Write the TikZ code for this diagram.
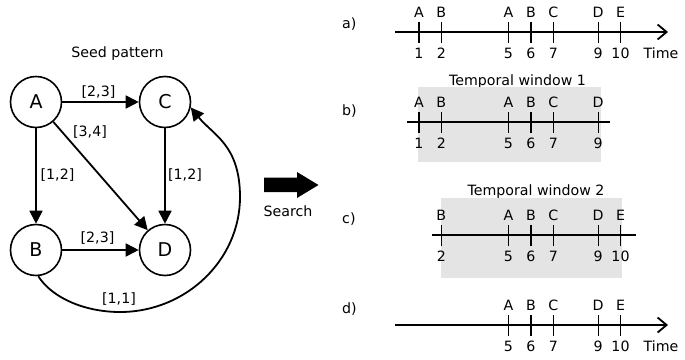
\documentclass[tikz,border=0pt]{standalone}
\usepackage{fontspec}
\setmainfont{DejaVu Sans}
\usetikzlibrary{arrows.meta}
\definecolor{winGray}{RGB}{228,228,228}

% tick marks with an event label above and a time stamp below
\newcommand\timemarks[3]{%
  \foreach \t/\l in {#3} {
    \draw[tickmark] ({396.5+22.4*\t},#2-10) -- ({396.5+22.4*\t},#2+11);
    \node[txt,anchor=base] (#1-l\t) at ({396.5+22.4*\t},#2-15) {\l};
    \node[txt,anchor=base] (#1-n\t) at ({396.5+22.4*\t},#2+26) {\t};
  }}

\begin{document}
\begin{tikzpicture}[x=1pt,y=-1pt,
  state/.style={circle,draw,line width=1.6pt,minimum size=51pt,inner sep=0pt,
                font=\fontsize{19}{21}\selectfont},
  edge/.style={line width=1.8pt,-{Triangle[length=13pt,width=13pt]}},
  txt/.style={font=\fontsize{14.2}{16}\selectfont,inner sep=0pt},
  axisline/.style={line width=1.8pt},
  timearrow/.style={axisline,-{Straight Barb[length=9pt,width=15pt,line width=1.8pt]}},
  tickmark/.style={line width=1.2pt},
  window/.style={fill=winGray,draw=none}
]
\useasboundingbox (0,0) rectangle (685,359);

% ---------- seed pattern graph ----------
\node[txt,anchor=base] (title) at (117.5,57) {Seed pattern};
\node[state] (A) at (36,102) {A};
\node[state] (C) at (165,102) {C};
\node[state] (B) at (36,250) {B};
\node[state] (D) at (165,250) {D};

\draw[edge] (A) -- (C);
\draw[edge] (A) -- (B);
\draw[edge] (A) -- (D);
\draw[edge] (C) -- (D);
\draw[edge] (B) -- (D);

\coordinate (loopLow) at (120,312);
\coordinate (loopRight) at (240,197);
\draw[edge] (B.-85) .. controls (52,298) and (85,312) .. (loopLow)
  .. controls (186,312) and (240,260) .. (loopRight)
  .. controls (240,145) and (213,135) .. (C.-12);

\node[txt] (lAC) at (98.5,92) {[2,3]};
\node[txt] (lAD) at (90,132) {[3,4]};
\node[txt] (lAB) at (57.5,175) {[1,2]};
\node[txt] (lCD) at (185,175) {[1,2]};
\node[txt] (lBD) at (97.5,238) {[2,3]};
\node[txt] (lBC) at (119,299) {[1,1]};

% ---------- search arrow ----------
\fill (264,177.5) -- (297,177.5) -- (297,172) -- (318.5,185) -- (297,198)
  -- (297,192) -- (264,192) -- cycle;
\node[txt,anchor=base] (search) at (288,216.5) {Search};

% ---------- row a ----------
\node[txt,anchor=base west] (rowa) at (342,28) {a)};
\coordinate (a-start) at (395,32);
\coordinate (a-end) at (668,32);
\draw[timearrow] (a-start) -- (a-end);
\timemarks{a}{32}{1/A,2/B,5/A,6/B,7/C,9/D,10/E}
\node[txt,anchor=base] (a-time) at (661,58) {Time};

% ---------- row b ----------
\node[txt,anchor=base] (win1) at (517.5,85) {Temporal window 1};
\fill[window] (418,87) rectangle (601,162);
\node[txt,anchor=base west] (rowb) at (342,115) {b)};
\coordinate (b-start) at (407,122);
\coordinate (b-end) at (610,122);
\draw[axisline] (b-start) -- (b-end);
\timemarks{b}{122}{1/A,2/B,5/A,6/B,7/C,9/D}

% ---------- row c ----------
\node[txt,anchor=base] (win2) at (536,195) {Temporal window 2};
\fill[window] (441,198) rectangle (622,278);
\node[txt,anchor=base west] (rowc) at (342,223) {c)};
\coordinate (c-start) at (432,235);
\coordinate (c-end) at (636,235);
\draw[axisline] (c-start) -- (c-end);
\timemarks{c}{235}{2/B,5/A,6/B,7/C,9/D,10/E}

% ---------- row d ----------
\node[txt,anchor=base west] (rowd) at (342,313) {d)};
\coordinate (d-start) at (395,325);
\coordinate (d-end) at (668,325);
\draw[timearrow] (d-start) -- (d-end);
\timemarks{d}{325}{5/A,6/B,7/C,9/D,10/E}
\node[txt,anchor=base] (d-time) at (661,351) {Time};
\end{tikzpicture}
\end{document}
